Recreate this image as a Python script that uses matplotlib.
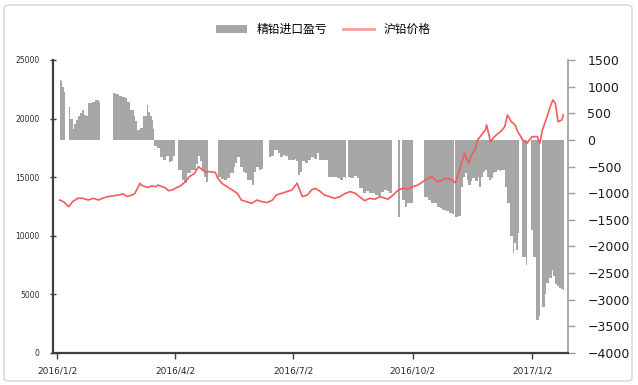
import matplotlib
matplotlib.use("Agg")
import matplotlib.pyplot as plt
import matplotlib.dates as mdates
from matplotlib.patches import Patch, FancyBboxPatch
from matplotlib.lines import Line2D
import numpy as np
import pandas as pd

plt.rcParams['font.family'] = ['DejaVu Sans', 'Noto Sans CJK SC']

nan = np.nan

# Import profit/loss (yuan/t, right axis); nan marks days without a quote
margin_dates = [
    "2016-01-04", "2016-01-05", "2016-01-06", "2016-01-07", "2016-01-08",
    "2016-01-11", "2016-01-12", "2016-01-14", "2016-01-15", "2016-01-17",
    "2016-01-18", "2016-01-20", "2016-01-21", "2016-01-23", "2016-01-24",
    "2016-01-26", "2016-01-27", "2016-01-29", "2016-01-31", "2016-02-01",
    "2016-02-03", "2016-02-04",
    "2016-02-14", "2016-02-16", "2016-02-19", "2016-02-21", "2016-02-23",
    "2016-02-25", "2016-02-27", "2016-03-01", "2016-03-02", "2016-03-04",
    "2016-03-06", "2016-03-08", "2016-03-11", "2016-03-12", "2016-03-14",
    "2016-03-15", "2016-03-16", "2016-03-17", "2016-03-19", "2016-03-21",
    "2016-03-24", "2016-03-26", "2016-03-28", "2016-03-30", "2016-03-31",
    "2016-04-02",
    "2016-04-04", "2016-04-07", "2016-04-09", "2016-04-11", "2016-04-14",
    "2016-04-16", "2016-04-18", "2016-04-20", "2016-04-21", "2016-04-23",
    "2016-04-24", "2016-04-26", "2016-04-27",
    "2016-05-05", "2016-05-07", "2016-05-10", "2016-05-12", "2016-05-14",
    "2016-05-17", "2016-05-18", "2016-05-20", "2016-05-22", "2016-05-24",
    "2016-05-26", "2016-05-27", "2016-05-30", "2016-05-31", "2016-06-02",
    "2016-06-03", "2016-06-06", "2016-06-07", "2016-06-09",
    "2016-06-13", "2016-06-15", "2016-06-17", "2016-06-20", "2016-06-22",
    "2016-06-24", "2016-06-26", "2016-06-28", "2016-06-30", "2016-07-03",
    "2016-07-04", "2016-07-06", "2016-07-07", "2016-07-09", "2016-07-11",
    "2016-07-13", "2016-07-16", "2016-07-18", "2016-07-20", "2016-07-22",
    "2016-07-24", "2016-07-26", "2016-07-29", "2016-07-31", "2016-08-02",
    "2016-08-05", "2016-08-07", "2016-08-09", "2016-08-11", "2016-08-12",
    "2016-08-13", "2016-08-15", "2016-08-18", "2016-08-20", "2016-08-22",
    "2016-08-25", "2016-08-27", "2016-08-29", "2016-09-01", "2016-09-03",
    "2016-09-05", "2016-09-08", "2016-09-10", "2016-09-12", "2016-09-14",
    "2016-09-16",
    "2016-09-21", "2016-09-22", "2016-09-24", "2016-09-26", "2016-09-28",
    "2016-10-01", "2016-10-02",
    "2016-10-11", "2016-10-14", "2016-10-16", "2016-10-18", "2016-10-21",
    "2016-10-23", "2016-10-25", "2016-10-28", "2016-10-30", "2016-11-01",
    "2016-11-03", "2016-11-04", "2016-11-06", "2016-11-08", "2016-11-10",
    "2016-11-11", "2016-11-13", "2016-11-14", "2016-11-16", "2016-11-17",
    "2016-11-19", "2016-11-21", "2016-11-22", "2016-11-24", "2016-11-25",
    "2016-11-27", "2016-11-28", "2016-11-30", "2016-12-01", "2016-12-03",
    "2016-12-04", "2016-12-06", "2016-12-08", "2016-12-09", "2016-12-11",
    "2016-12-12", "2016-12-14", "2016-12-16", "2016-12-18", "2016-12-19",
    "2016-12-21", "2016-12-22", "2016-12-23",
    "2016-12-25", "2016-12-28", "2016-12-29",
    "2017-01-01", "2017-01-03", "2017-01-05", "2017-01-07", "2017-01-08",
    "2017-01-10", "2017-01-12", "2017-01-13", "2017-01-15", "2017-01-17",
    "2017-01-18", "2017-01-20", "2017-01-21", "2017-01-23", "2017-01-24",
    "2017-01-26", "2017-01-27",
]
margin_values = [
    1130, 1100, 1000, 900, nan,
    625, 400, 200, 300, 380,
    450, 500, 560, 470, 450,
    690, 700, 720, 740, 750,
    720, nan,
    880, 860, 820, 810, 790,
    720, 560, 440, 350, 190,
    225, 440, 660, 530, 450,
    380, 200, -120, -150, -330,
    -370, -300, -420, -400, -300,
    nan,
    -560, -750, -800, -620, -560,
    -560, -450, -300, -400, -560,
    -700, -790, nan,
    -700, -740, -750, -720, -620,
    -500, -440, -320, -500, -600,
    -620, -750, -760, -845, -600,
    -500, -560, -540, nan,
    -315, -300, -190, -250, -330,
    -280, -300, -380, -370, -350,
    -400, -657, -600, -400, -440,
    -380, -330, -350, -250, -375,
    -380, -370, -690, -700, -690,
    -720, -750, -700, -720, nan,
    -700, -710, -680, -720, -900,
    -1000, -950, -1000, -1000, -1030,
    -1060, -980, -940, -960, -1000,
    nan,
    -1440, nan, -1130, -1250, -1190,
    -1190, nan,
    -1070, -1130, -1190, -1190, -1250,
    -1280, -1310, -1330, -1380, -1400,
    nan, -1440, -1430, -880, -700,
    -620, -750, -845, -780, -720,
    -780, -700, -880, -690, -600,
    -560, -690, -750, -720, -620,
    -600, -560, -580, -560, -560,
    -880, -1180, -1800, -2130, -1940,
    -2060, -1750, nan,
    -2190, -2350, nan,
    -1690, -2200, -3380, -3300, nan,
    -3130, -2900, -2680, -2600, -2440,
    -2560, -2700, -2750, -2780, -2800,
    -2815, nan,
]

# Shanghai lead futures price (yuan/t, left axis)
price_dates = [
    "2016-01-04", "2016-01-07", "2016-01-11", "2016-01-14", "2016-01-18",
    "2016-01-22", "2016-01-26", "2016-01-30", "2016-02-03", "2016-02-06",
    "2016-02-10", "2016-02-14", "2016-02-18", "2016-02-22", "2016-02-25",
    "2016-02-29", "2016-03-02", "2016-03-04", "2016-03-06", "2016-03-07",
    "2016-03-10", "2016-03-12", "2016-03-15", "2016-03-18", "2016-03-20",
    "2016-03-23", "2016-03-25", "2016-03-28", "2016-03-31", "2016-04-02",
    "2016-04-06", "2016-04-10", "2016-04-13", "2016-04-17", "2016-04-20",
    "2016-04-23", "2016-04-25", "2016-04-29", "2016-05-03", "2016-05-05",
    "2016-05-08", "2016-05-12", "2016-05-16", "2016-05-20", "2016-05-23",
    "2016-05-27", "2016-05-31", "2016-06-04", "2016-06-08", "2016-06-12",
    "2016-06-16", "2016-06-19", "2016-06-23", "2016-06-27", "2016-07-01",
    "2016-07-05", "2016-07-09", "2016-07-13", "2016-07-16", "2016-07-19",
    "2016-07-23", "2016-07-26", "2016-07-30", "2016-08-03", "2016-08-07",
    "2016-08-11", "2016-08-15", "2016-08-19", "2016-08-22", "2016-08-26",
    "2016-08-30", "2016-09-03", "2016-09-07", "2016-09-11", "2016-09-13",
    "2016-09-17", "2016-09-21", "2016-09-25", "2016-09-28", "2016-10-02",
    "2016-10-06", "2016-10-10", "2016-10-14", "2016-10-17", "2016-10-21",
    "2016-10-25", "2016-10-27", "2016-10-31", "2016-11-04", "2016-11-07",
    "2016-11-11", "2016-11-14", "2016-11-17", "2016-11-19", "2016-11-21",
    "2016-11-24", "2016-11-27", "2016-11-28", "2016-12-01", "2016-12-04",
    "2016-12-07", "2016-12-10", "2016-12-12", "2016-12-14", "2016-12-17",
    "2016-12-20", "2016-12-22", "2016-12-26", "2016-12-29", "2017-01-02",
    "2017-01-06", "2017-01-08", "2017-01-10", "2017-01-14", "2017-01-16",
    "2017-01-18", "2017-01-20", "2017-01-22", "2017-01-25", "2017-01-26",
]
price_values = [
    13050, 12910, 12480, 12910, 13200,
    13200, 13050, 13200, 13050, 13200,
    13340, 13400, 13480, 13570, 13360,
    13480, 13620, 14050, 14480, 14330,
    14190, 14120, 14260, 14190, 14330,
    14190, 14120, 13850, 13910, 14050,
    14250, 14620, 15050, 15330, 15900,
    15620, 15470, 15470, 15400, 14900,
    14480, 14190, 13910, 13620, 13050,
    12910, 12770, 13050, 12910, 12840,
    13050, 13480, 13620, 13770, 13910,
    14480, 13340, 13480, 13910, 14050,
    13770, 13480, 13340, 13200, 13340,
    13620, 13770, 13620, 13340, 13000,
    13200, 13120, 13340, 13200, 13120,
    13480, 13910, 14050, 13980, 14190,
    14330, 14620, 14900, 15050, 14620,
    14760, 14900, 14830, 14530, 15620,
    17040, 16190, 17040, 17320, 18170,
    18600, 19030, 19450, 18030, 18460,
    18740, 19030, 19310, 20310, 19740,
    19450, 18880, 18170, 17890, 18460,
    18460, 17890, 19030, 20310, 21020,
    21590, 21310, 19740, 19880, 20310,
]

tick_dates = ["2016-01-02", "2016-04-02", "2016-07-02", "2016-10-02", "2017-01-02"]
tick_labels = ["2016/1/2", "2016/4/2", "2016/7/2", "2016/10/2", "2017/1/2"]

series_margin = "精铅进口盈亏"
series_price = "沪铅价格"

bar_color = "#A6A6A6"
line_color = "#F45B5B"
axis_dark = "#3F3F3F"

fig = plt.figure(figsize=(6.38, 3.85), dpi=100)
fig.patch.set_facecolor("white")

W, H = 638, 385
ax = fig.add_axes([53.5 / W, 1 - 353 / H, (568 - 53.5) / W, (353 - 60) / H])
ax2 = ax.twinx()

# bars: each spans until the next quote
md = mdates.date2num(pd.to_datetime(margin_dates))
mv = np.array(margin_values, dtype=float)
widths = np.append(np.diff(md), 1.0)
ok = ~np.isnan(mv)
ax2.bar(md[ok], mv[ok], width=widths[ok], align="edge", color=bar_color,
        linewidth=0, zorder=2)

pd_num = mdates.date2num(pd.to_datetime(price_dates))
ax.plot(pd_num, price_values, color=line_color, lw=1.2, zorder=3)

ax.set_zorder(ax2.get_zorder() + 1)
ax.patch.set_visible(False)

xl = (mdates.date2num(pd.Timestamp("2015-12-30 07:00")),
      mdates.date2num(pd.Timestamp("2017-01-29 17:00")))
ax.set_xlim(*xl)
ax2.set_xlim(*xl)

ax.set_ylim(0, 25000)
ax.set_yticks(np.arange(0, 25001, 5000))
ax2.set_ylim(-4000, 1500)
ax2.set_yticks(np.arange(-4000, 1501, 500))

ax.set_xticks(mdates.date2num(pd.to_datetime(tick_dates)))
ax.set_xticklabels(tick_labels)

for s in ["top", "right"]:
    ax.spines[s].set_visible(False)
for s in ["top", "left", "bottom"]:
    ax2.spines[s].set_visible(False)
ax.spines["left"].set_color(axis_dark)
ax.spines["left"].set_linewidth(1.6)
ax.spines["bottom"].set_color(axis_dark)
ax.spines["bottom"].set_linewidth(1.6)
ax2.spines["right"].set_color("#9E9E9E")
ax2.spines["right"].set_linewidth(1.2)

ax.tick_params(axis="x", direction="out", length=4, width=1, color=axis_dark,
               labelsize=6.5, labelcolor="#2A2A2A", pad=6)
ax.tick_params(axis="y", direction="inout", length=4, width=1, color=axis_dark,
               labelsize=5.5, labelcolor="#2A2A2A", pad=8)
ax2.tick_params(axis="y", direction="out", length=5, width=1, color="#9E9E9E",
                labelsize=9, labelcolor="#1A1A2A", pad=9)

handles = [Patch(facecolor=bar_color, edgecolor="none"),
           Line2D([0], [0], color="#F79A9A", lw=2.0)]
leg = fig.legend(handles, [series_margin, series_price], loc="center",
                 bbox_to_anchor=(0.507, 0.923), ncol=2, frameon=False,
                 handlelength=2.6, handleheight=0.6,
                 columnspacing=1.3, handletextpad=0.85,
                 prop={"family": ["Noto Sans CJK SC", "DejaVu Sans"], "size": 8.5})

border = FancyBboxPatch((4 / W, 4 / H), 628 / W, 376 / H,
                        boxstyle="round,pad=0,rounding_size=0.008",
                        transform=fig.transFigure, facecolor="none",
                        edgecolor="#D4D4D4", linewidth=1.0)
fig.patches.append(border)

fig.savefig("out.png", dpi=100)
